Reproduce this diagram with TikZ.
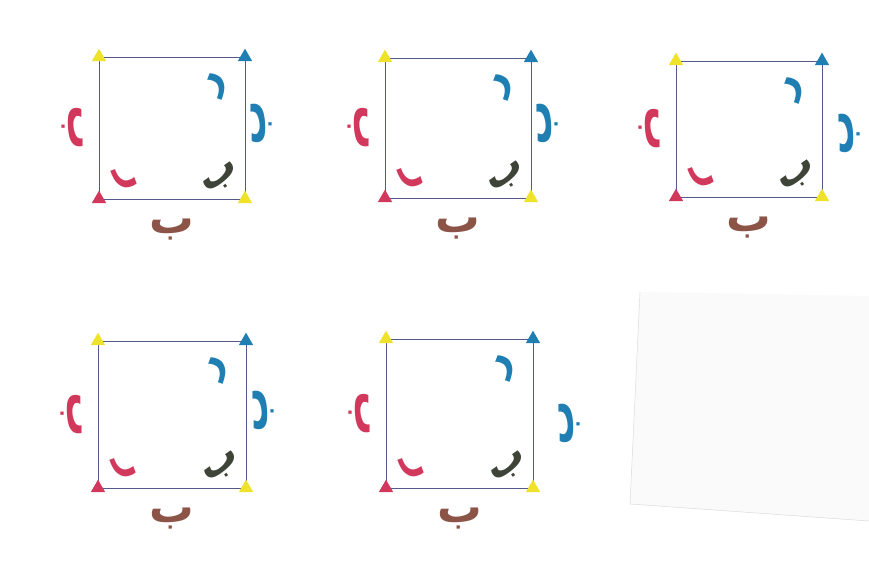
\documentclass[tikz,border=0pt]{standalone}
\usepackage{fontspec}
\newfontfamily\arabicfont[Script=Arabic]{DejaVu Sans}
\TeXXeTstate=1
\usetikzlibrary{shapes.geometric}
\definecolor{redpen}{HTML}{D2385C}
\definecolor{bluepen}{HTML}{1F7FB3}
\definecolor{yellowpen}{HTML}{EEE32A}
\definecolor{brownpen}{HTML}{8C5447}
\definecolor{darkpen}{HTML}{3E4538}
\definecolor{linepen}{HTML}{545A88}
\tikzset{
  tri/.style={regular polygon, regular polygon sides=3, inner sep=0pt, minimum size=0.5cm, fill=#1},
  edge/.style={draw=linepen, line width=0.7pt},
  letter/.style={font=\arabicfont\bfseries\fontsize{38}{38}\selectfont, text=#1, inner sep=0pt},
  cornerletter/.style={font=\arabicfont\bfseries\fontsize{34}{34}\selectfont, text=#1, inner sep=0pt},
}
\begin{document}
\begin{tikzpicture}[x=0.03cm,y=-0.03cm]
\useasboundingbox (0,0) rectangle (869,587);
% loose sheet of paper, lower right
\fill[gray!4] (640,292) -- (869,296) -- (869,521) -- (630,504) -- cycle;
\draw[gray!30, line width=0.4pt] (640,292) -- (630,504) -- (869,521);

% the five squares: n / left / top / width / height / right label dx / right label dy
\foreach \n/\x/\y/\w/\h/\r/\s in {1/99/57/146/142/17/66, 2/385/58/146/140/17/65,
    3/676/61/146/136/28/72, 4/98/341/148/147/18/69, 5/386/339/147/149/37/84}{
  \coordinate (tl\n) at (\x,\y);
  \coordinate (tr\n) at (\x+\w,\y);
  \coordinate (bl\n) at (\x,\y+\h);
  \coordinate (br\n) at (\x+\w,\y+\h);
  \draw[edge] (tl\n) -- (tr\n) -- (br\n) -- (bl\n) -- cycle;
  %\draw[edge] (tl\n) rectangle (br\n);
  \node[tri=yellowpen] (ytl\n) at (tl\n) {};
  \node[tri=bluepen] (btr\n) at (tr\n) {};
  \node[tri=redpen] (rbl\n) at (bl\n) {};
  \node[tri=yellowpen] (ybr\n) at (br\n) {};
  % letters on the sides
  \node[letter=redpen, rotate=-90] (left\n) at (\x-27,\y+0.5*\h) {\beginR ب\endR};
  \node[letter=bluepen, rotate=90] (right\n) at (\x+\w+\r,\y+\s) {\beginR ب\endR};
  \node[letter=brownpen] (bottom\n) at (\x+0.5*\w,\y+\h+31) {\beginR ب\endR};
  % letters in the corners
  \node[cornerletter=bluepen, rotate=70] (ctr\n) at (\x+\w-28,\y+28) {\beginR ر\endR};
  \node[cornerletter=redpen, rotate=-70] (cbl\n) at (\x+26,\y+\h-19) {\beginR ر\endR};
  \node[cornerletter=darkpen, rotate=35] (cbr\n) at (\x+\w-23,\y+\h-20) {\beginR ب\endR};
}
\end{tikzpicture}
\end{document}
